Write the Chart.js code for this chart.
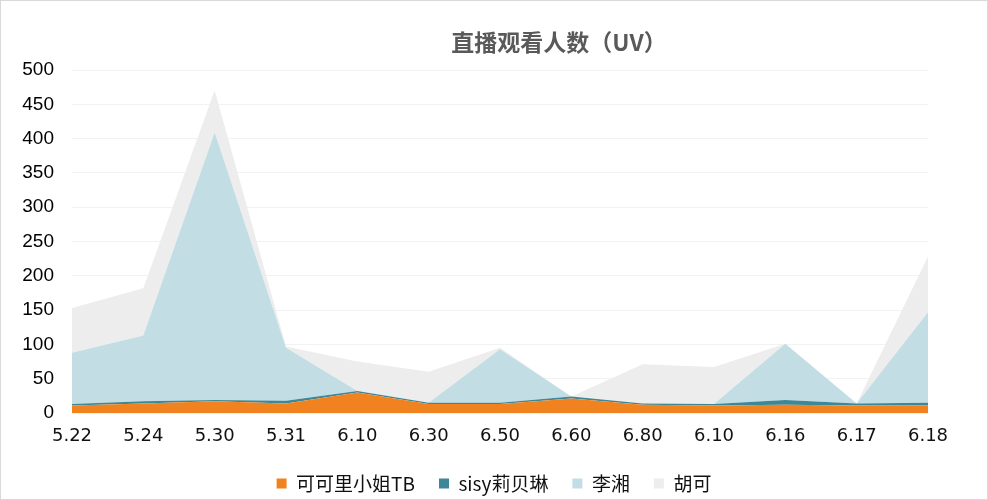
<!DOCTYPE html>
<html>
<head>
<meta charset="utf-8">
<script src="https://cdn.jsdelivr.net/npm/chart.js@4.4.0/dist/chart.umd.min.js"></script>
<style>
  html, body { margin: 0; padding: 0; background: #fff; overflow: hidden; }
  #wrap { width: 988px; height: 500px; position: relative; }
  canvas { display: block; }
</style>
</head>
<body>
<div id="wrap"><canvas id="c" width="988" height="500"></canvas></div>
<script>
// ---- data (stacked area increments) ----
const chartTitle = '直播观看人数（UV）';
const categories = ['5.22', '5.24', '5.30', '5.31', '6.10', '6.30', '6.50', '6.60', '6.80', '6.10', '6.16', '6.17', '6.18'];
const seriesNames = ['可可里小姐TB', 'sisy莉贝琳', '李湘', '胡可'];
const keke  = [11, 14, 17, 14, 30, 13, 13, 21, 12, 11, 12, 11, 11];
const sisy  = [2, 3, 2, 4, 2, 2, 2, 3, 2, 2, 7, 3, 4];
const lixiang = [75, 96, 390, 77, 0, 0, 78, 0, 0, 0, 82, 0, 132];
const huke  = [65, 69, 61, 2, 43, 45, 2, 0, 57, 54, 0, 0, 81];
const yTicks = [0, 50, 100, 150, 200, 250, 300, 350, 400, 450, 500];

const colors = ['#F0831F', '#3D8797', '#C2DDE3', '#EDEDED'];
const seriesValues = [keke, sisy, lixiang, huke];

const datasets = seriesValues.map((vals, i) => ({
  label: seriesNames[i],
  data: vals,
  backgroundColor: colors[i],
  borderColor: colors[i],
  borderWidth: 0,
  pointRadius: 0,
  pointHoverRadius: 0,
  tension: 0,
  fill: i === 0 ? 'origin' : '-1'
}));

const bgPlugin = {
  id: 'bg',
  beforeDraw(chart) {
    const ctx = chart.ctx;
    ctx.save();
    ctx.fillStyle = '#ffffff';
    ctx.fillRect(0, 0, chart.width, chart.height);
    ctx.restore();
  },
  afterDraw(chart) {
    const ctx = chart.ctx;
    ctx.save();
    ctx.strokeStyle = '#D9D9D9';
    ctx.lineWidth = 1;
    ctx.strokeRect(0.5, 0.5, chart.width - 1, chart.height - 1);
    ctx.fillStyle = '#595959';
    ctx.font = 'bold 23px "Noto Sans CJK SC", sans-serif';
    ctx.textAlign = 'center';
    ctx.textBaseline = 'middle';
    ctx.fillText(chartTitle, 559, 42);
    ctx.restore();
  }
};

new Chart(document.getElementById('c'), {
  type: 'line',
  data: { labels: categories, datasets },
  plugins: [bgPlugin],
  options: {
    responsive: false,
    animation: false,
    events: [],
    layout: { padding: { top: 70, right: 0, left: 0, bottom: 0 } },
    plugins: {
      title: { display: false },
      tooltip: { enabled: false },
      legend: {
        position: 'bottom',
        maxHeight: 50,
        labels: {
          boxWidth: 10,
          boxHeight: 10,
          padding: 24,
          color: '#111111',
          font: { size: 19, family: '"Noto Sans CJK SC", sans-serif' }
        }
      }
    },
    scales: {
      x: {
        offset: false,
        grid: { display: false, drawTicks: false },
        border: { display: false },
        ticks: {
          color: '#111111',
          padding: 13,
          maxRotation: 0,
          autoSkip: false,
          font: { size: 18, family: '"DejaVu Sans", sans-serif' }
        },
        afterFit(scale) { scale.height = 37; }
      },
      y: {
        stacked: true,
        min: 0,
        max: 500,
        afterBuildTicks(scale) { scale.ticks = yTicks.map(v => ({ value: v })); },
        grid: { color: '#F2F2F2', drawTicks: false, lineWidth: 1 },
        border: { display: false },
        ticks: {
          color: '#000000',
          padding: 18,
          font: { size: 19, family: '"Liberation Sans", Arial, sans-serif' }
        },
        afterFit(scale) { scale.width = 72; }
      },
      yr: {
        position: 'right',
        min: 0,
        max: 500,
        grid: { display: false, drawTicks: false },
        border: { display: false },
        ticks: { display: false },
        afterFit(scale) { scale.width = 60; }
      }
    }
  }
});
</script>
</body>
</html>
